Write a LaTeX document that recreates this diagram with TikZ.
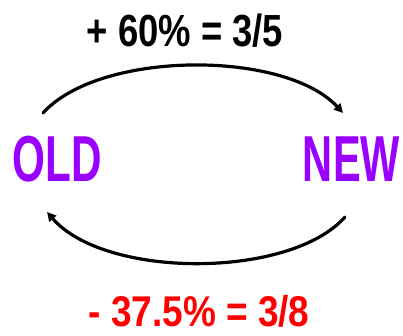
\documentclass[tikz,border=0pt]{standalone}
\usepackage{fontspec}
\setmainfont{Liberation Sans}
\usetikzlibrary{arrows.meta}
\definecolor{oldnew}{HTML}{9900FF}
\definecolor{minus}{HTML}{FF0000}
\begin{document}
\begin{tikzpicture}[x=1pt,y=-1pt,
  lbl/.style={inner sep=0pt, font=\bfseries},
  arc/.style={line width=3.2pt, line cap=round, -{Triangle[length=9pt,width=9pt]}}]
\useasboundingbox (0,0) rectangle (403,336);
\node[lbl, anchor=base] (top) at (185,47) {\scalebox{0.81}[1]{\fontsize{45}{45}\selectfont + 60\% = 3/5}};
\node[lbl, anchor=base, text=oldnew] (old) at (57.5,182) {\scalebox{0.65}[1]{\fontsize{65}{65}\selectfont OLD}};
\node[lbl, anchor=base, text=oldnew] (new) at (351.5,182) {\scalebox{0.64}[1]{\fontsize{65}{65}\selectfont NEW}};
\node[lbl, anchor=base, text=minus] (bot) at (199,326) {\scalebox{0.86}[1]{\fontsize{43}{43}\selectfont - 37.5\% = 3/8}};
\coordinate (t1) at (43,113);
\coordinate (t2) at (343,113);
\coordinate (b1) at (47,212);
\coordinate (b2) at (345,217);
\draw[arc] (t1) .. controls (100,50) and (285,50) .. (t2);
\draw[arc] (b2) .. controls (290,279) and (105,279) .. (b1);
\end{tikzpicture}
\end{document}
